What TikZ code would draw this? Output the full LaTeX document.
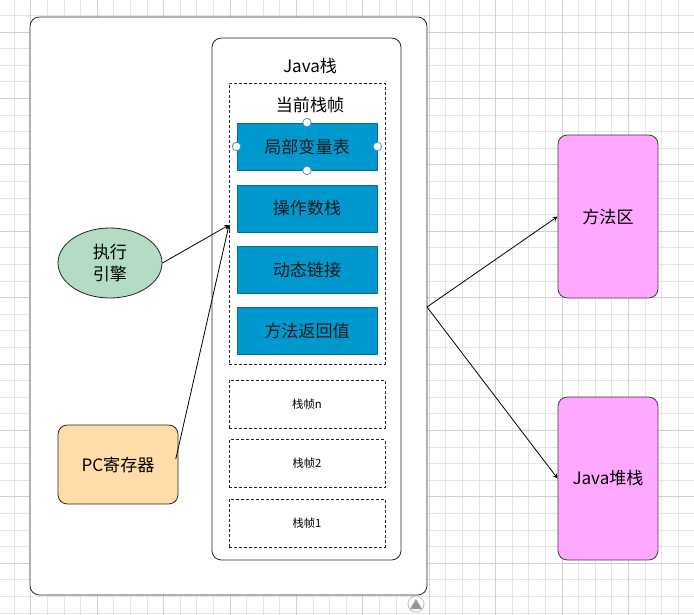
\documentclass[tikz,border=0pt]{standalone}
\usepackage{fontspec}
\setmainfont{Noto Sans CJK SC}
\usetikzlibrary{shapes.geometric}
\definecolor{partblue}{HTML}{0099CF}
\definecolor{partline}{HTML}{0E6A93}
\definecolor{enggreen}{HTML}{B4DCC4}
\definecolor{pcorange}{HTML}{FFDDAA}
\definecolor{areapink}{HTML}{FFA8FF}
\definecolor{handleblue}{HTML}{3C8FE0}
\tikzset{
  box/.style={draw=black!85, fill=white, rounded corners=7pt, inner sep=0pt, outer sep=0pt},
  slot/.style={draw=black!85, dashed, dash pattern=on 2.25pt off 1.5pt, fill=white,
    minimum width=117pt, minimum height=36pt, inner sep=0pt, font=\fontsize{8.5}{10}\selectfont},
  part/.style={draw=partline, fill=partblue, minimum width=105pt, minimum height=35.25pt,
    inner sep=0pt, font=\fontsize{12.8}{15}\selectfont, text=black!90},
  area/.style={draw=black!70!areapink, fill=areapink, rounded corners=7pt, minimum width=75pt,
    minimum height=122.25pt, inner sep=0pt, font=\fontsize{12.8}{15}\selectfont},
  handle/.style={draw=handleblue, fill=white, line width=0.6pt},
}
\begin{document}
\begin{tikzpicture}[x=0.75pt, y=-0.75pt, line width=0.6pt, >=stealth, line join=round]
\useasboundingbox (0,0) rectangle (694,615);
\fill[white] (0,0) rectangle (694,615);
\foreach \i in {-1,...,40} \draw[black!10, line width=0.5pt] (30.7+16.6*\i,0) -- (30.7+16.6*\i,615);
\foreach \i in {-1,...,35} \draw[black!10, line width=0.5pt] (0,32+16.6*\i) -- (694,32+16.6*\i);
\foreach \i in {-1,...,10} \draw[black!18, line width=0.5pt] (30.7+66.4*\i,0) -- (30.7+66.4*\i,615);
\foreach \i in {-1,...,9} \draw[black!18, line width=0.5pt] (0,32+66.4*\i) -- (694,32+66.4*\i);

\node[box, minimum width=297.75pt, minimum height=433.5pt] (outer) at (228.5,306) {};
\node[box, minimum width=141.75pt, minimum height=391.5pt] (stack) at (306.5,299) {};
\node[font=\fontsize{12.8}{15}\selectfont] (stacklbl) at (310,66) {Java栈};
\node[slot, minimum height=210.75pt] (cur) at (307,223.5) {};
\node[font=\fontsize{12.8}{15}\selectfont] (curlbl) at (310,105) {当前栈帧};

\node[part] (local) at (307,146.5) {局部变量表};
\node[part] (opstack) at (307,208.5) {操作数栈};
\node[part] (dynlink) at (307,269.5) {动态链接};
\node[part] (ret) at (307,330.5) {方法返回值};
\foreach \a in {north,south,west,east} \draw[handle] (local.\a) circle (3.2pt);

\node[slot] (fn) at (307,404) {栈帧n};
\node[slot] (f2) at (307,463.5) {栈帧2};
\node[slot] (f1) at (307,523) {栈帧1};

\node[ellipse, draw=black!85, fill=enggreen, minimum width=78pt, minimum height=52.5pt,
  inner sep=0pt, align=center, font=\fontsize{12.8}{16}\selectfont] (exec) at (110,263) {执行\\引擎};
\node[draw=black!85, fill=pcorange, rounded corners=7pt, minimum width=90pt, minimum height=59.25pt,
  inner sep=0pt, font=\fontsize{12.8}{15}\selectfont] (pc) at (118,464.5) {PC寄存器};

\node[area] (method) at (608,216.5) {方法区};
\node[area] (heap) at (608,478.5) {Java堆栈};

\coordinate (hit) at (229,225);
\coordinate (out) at (427,307);
\draw[->] (exec.east) -- (hit);
\draw[->] ([xshift=-2pt,yshift=4pt]pc.east) -- (hit);
\draw[->] (out) -- (method.west);
\draw[->] (out) -- (heap.west);

\draw[black!25, fill=white] (416,604) circle (6pt);
\fill[black!40] (410,609) -- (422,609) -- (416,599) -- cycle;
\end{tikzpicture}
\end{document}
